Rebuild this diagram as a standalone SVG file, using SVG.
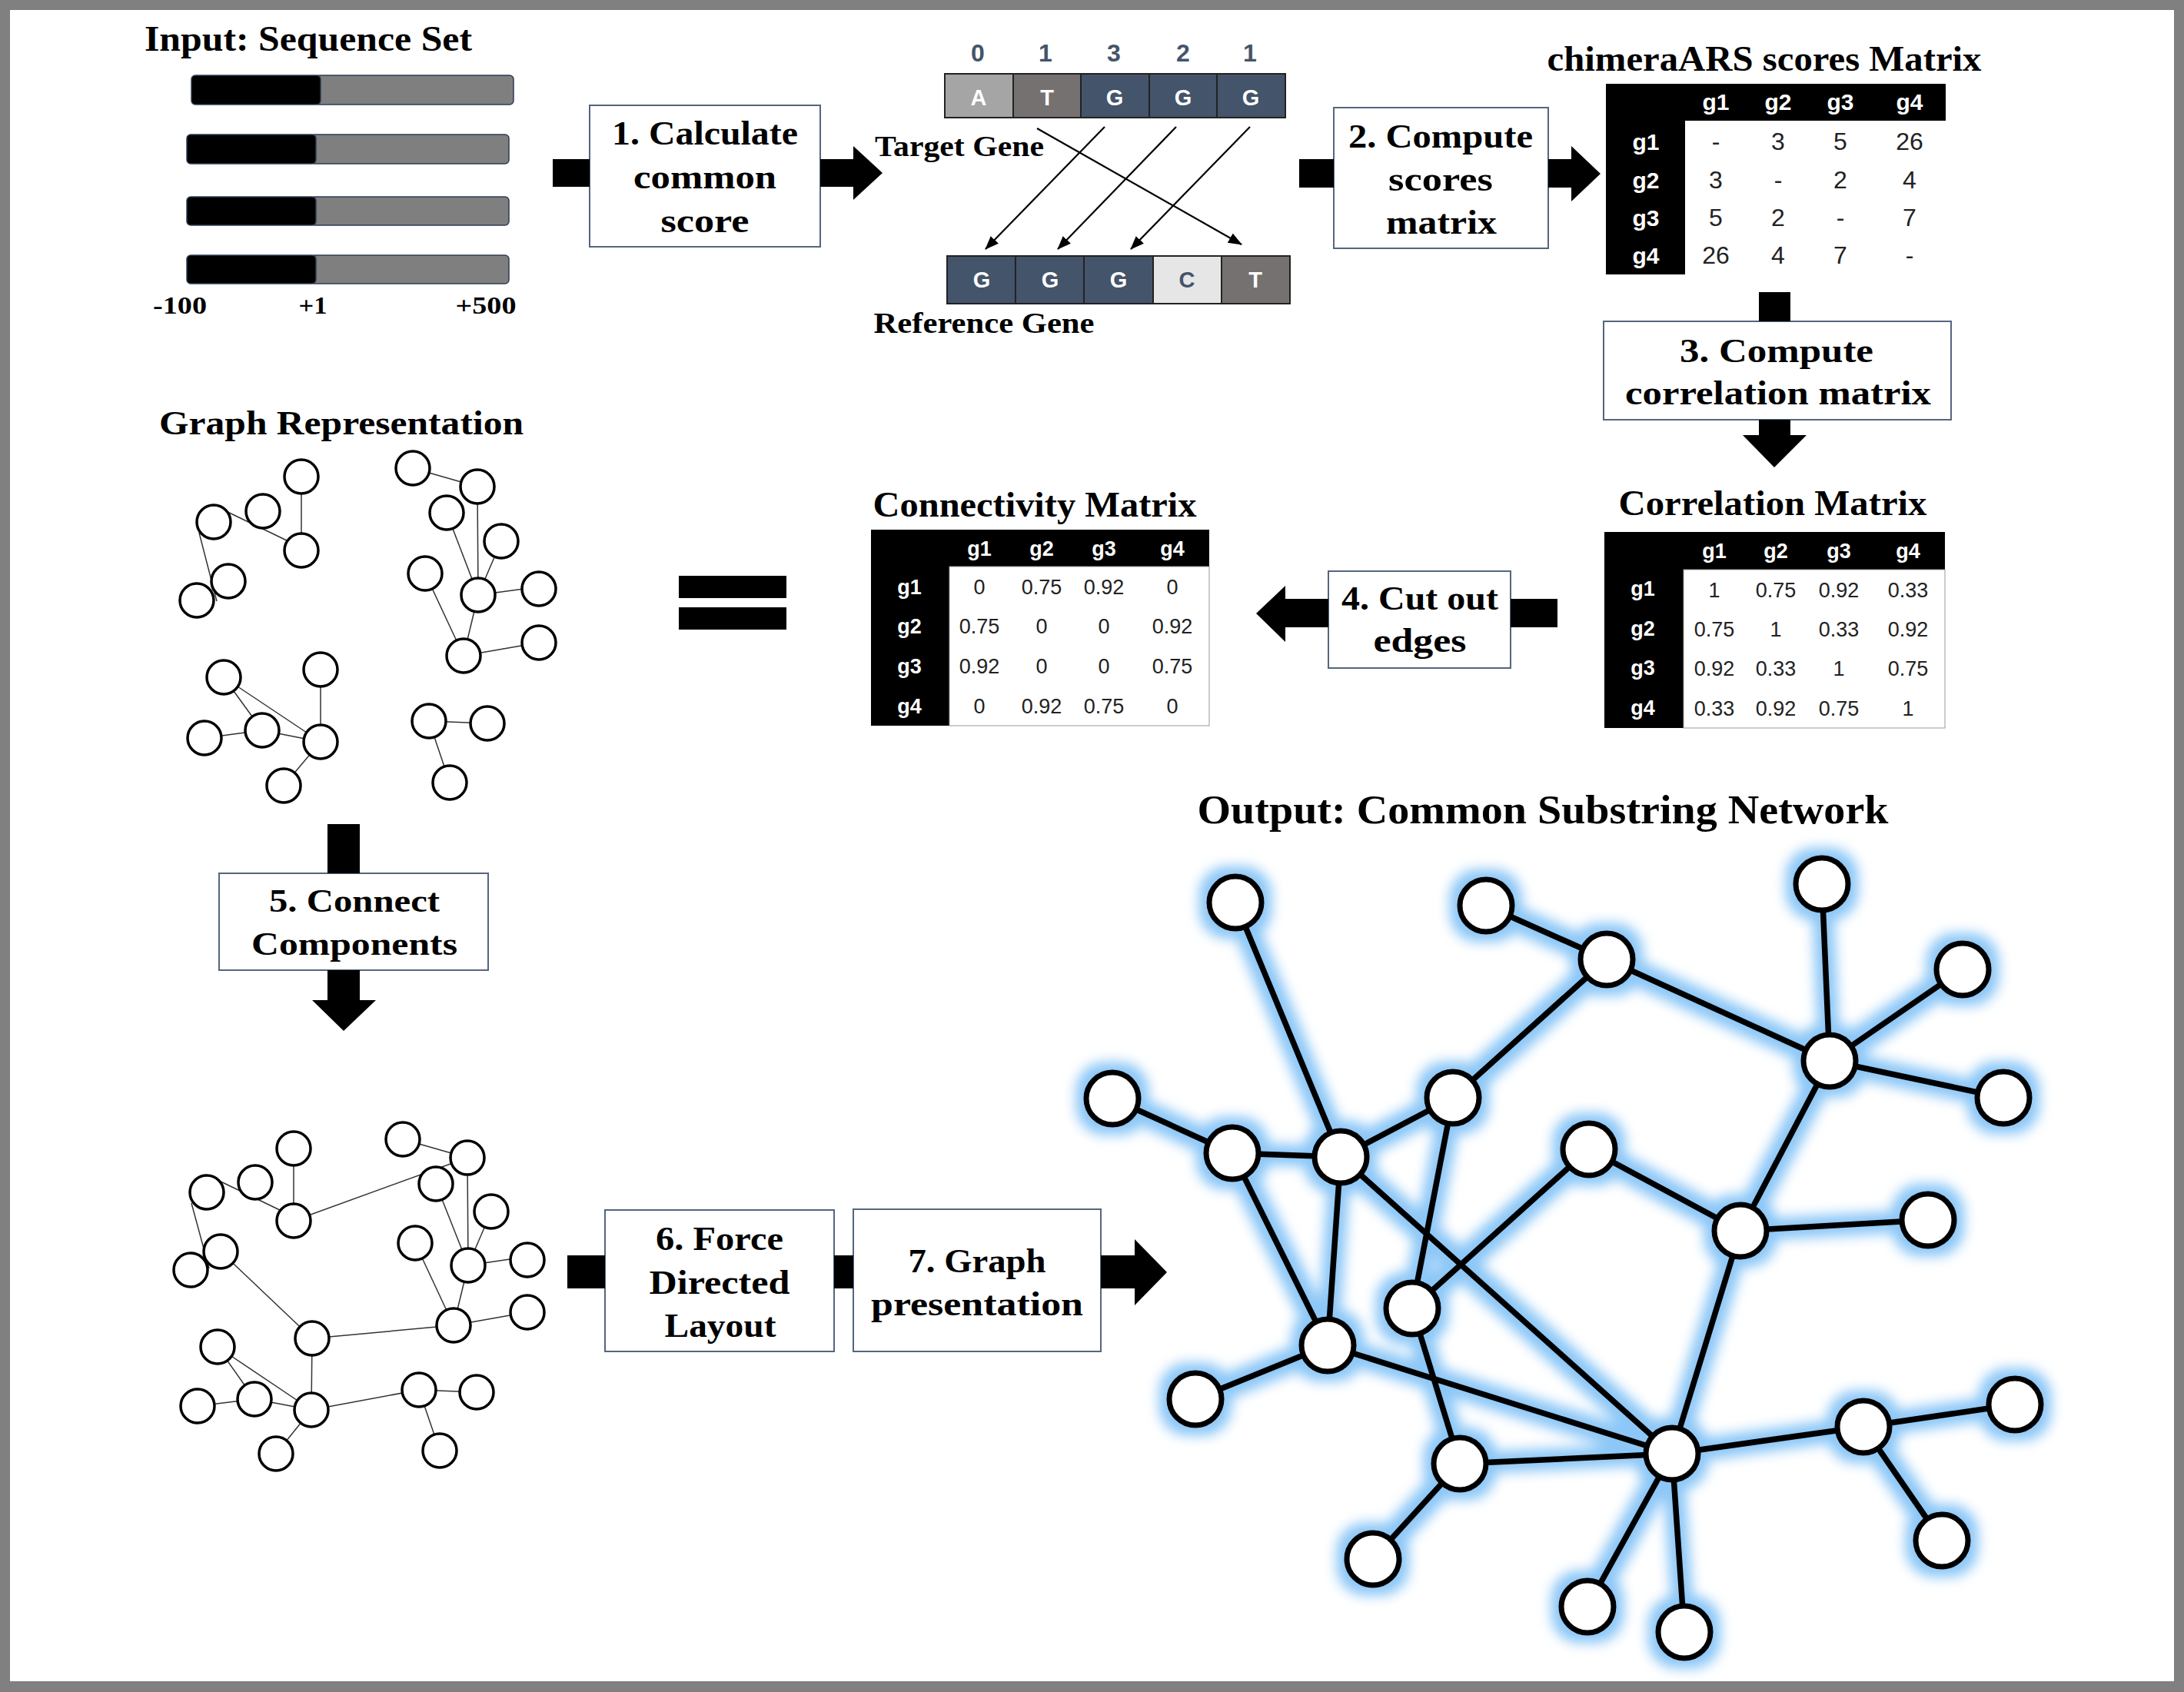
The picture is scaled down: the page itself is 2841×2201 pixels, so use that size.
<svg xmlns="http://www.w3.org/2000/svg" xmlns:xlink="http://www.w3.org/1999/xlink" width="2841" height="2201" viewBox="0 0 2841 2201">
<style>
.t{font-family:'Liberation Serif','DejaVu Serif',serif;font-weight:bold;fill:#000;text-anchor:middle}
.s{font-family:'Liberation Sans','DejaVu Sans',sans-serif;text-anchor:middle}
.sb{font-family:'Liberation Sans','DejaVu Sans',sans-serif;font-weight:bold;text-anchor:middle}
.box{fill:#fff;stroke:#55657e;stroke-width:2}
.blk{fill:#000}
.ge{stroke:#333;stroke-width:1.5;fill:none}
.gn{fill:#fff;stroke:#000;stroke-width:3.5}
.ne{stroke:#000;stroke-width:7.5;stroke-linecap:round;fill:none}
.nn{fill:#fff;stroke:#000;stroke-width:7}
.hw{fill:#fff}
.mv{font-family:'Liberation Sans','DejaVu Sans',sans-serif;text-anchor:middle;fill:#222}
.seqk{fill:#000;stroke:#2f3d55;stroke-width:1.5}
.seqg{fill:#7f7f7f;stroke:#2f3d55;stroke-width:1.5}
.cell{stroke:#222;stroke-width:2}
.ga{stroke:#000;stroke-width:2.2;fill:none}
</style>
<defs>
<marker id="ah" markerUnits="userSpaceOnUse" markerWidth="18" markerHeight="14" refX="17" refY="7" orient="auto">
<path d="M0,0 L18,7 L0,14 z" fill="#000"/>
</marker>
<filter id="halo" x="-10%" y="-10%" width="120%" height="120%">
<feMorphology in="SourceAlpha" operator="dilate" radius="10" result="d"/>
<feGaussianBlur in="d" stdDeviation="8" result="b"/>
<feFlood flood-color="#8cc7f7" result="f"/>
<feComposite in="f" in2="b" operator="in"/>
</filter>
</defs>

<!-- frame -->
<rect x="0" y="0" width="2841" height="2201" fill="#808080"/>
<rect x="13" y="13" width="2815" height="2174" fill="#fff"/>

<!-- Input: Sequence Set -->
<g id="input-sequences">
<text class="t" x="401" y="66" font-size="46" textLength="426" lengthAdjust="spacingAndGlyphs">Input: Sequence Set</text>
<rect class="seqg" x="410" y="98" width="258" height="38" rx="5"/>
<rect class="seqk" x="249" y="98" width="168" height="38" rx="5"/>
<rect class="seqg" x="404" y="175" width="258" height="38" rx="5"/>
<rect class="seqk" x="243" y="175" width="168" height="38" rx="5"/>
<rect class="seqg" x="404" y="256" width="258" height="37" rx="5"/>
<rect class="seqk" x="243" y="256" width="168" height="37" rx="5"/>
<rect class="seqg" x="404" y="332" width="258" height="37" rx="5"/>
<rect class="seqk" x="243" y="332" width="168" height="37" rx="5"/>
<text class="t" x="234" y="408" font-size="32" textLength="70" lengthAdjust="spacingAndGlyphs">-100</text>
<text class="t" x="407" y="408" font-size="32" textLength="37" lengthAdjust="spacingAndGlyphs">+1</text>
<text class="t" x="632" y="408" font-size="32" textLength="79" lengthAdjust="spacingAndGlyphs">+500</text>
</g>

<!-- Step boxes -->
<g id="step1">
<rect class="box" x="767" y="137" width="300" height="184"/>
<text class="t" x="917" y="188" font-size="44" textLength="242" lengthAdjust="spacingAndGlyphs">1. Calculate</text>
<text class="t" x="917" y="245" font-size="44" textLength="186" lengthAdjust="spacingAndGlyphs">common</text>
<text class="t" x="917" y="302" font-size="44" textLength="115" lengthAdjust="spacingAndGlyphs">score</text>
</g>

<g id="alignment">
<text class="sb" x="1272" y="80" font-size="32" fill="#44546a">0</text>
<text class="sb" x="1360" y="80" font-size="32" fill="#44546a">1</text>
<text class="sb" x="1449" y="80" font-size="32" fill="#44546a">3</text>
<text class="sb" x="1539" y="80" font-size="32" fill="#44546a">2</text>
<text class="sb" x="1626" y="80" font-size="32" fill="#44546a">1</text>
<rect class="cell" x="1229" y="96" width="89" height="57" fill="#a5a5a5"/>
<rect class="cell" x="1318" y="96" width="88" height="57" fill="#767171"/>
<rect class="cell" x="1406" y="96" width="89" height="57" fill="#44546a"/>
<rect class="cell" x="1495" y="96" width="88" height="57" fill="#44546a"/>
<rect class="cell" x="1583" y="96" width="89" height="57" fill="#44546a"/>
<text class="sb" x="1273" y="137" font-size="29" fill="#fff">A</text>
<text class="sb" x="1362" y="137" font-size="29" fill="#fff">T</text>
<text class="sb" x="1450" y="137" font-size="29" fill="#fff">G</text>
<text class="sb" x="1539" y="137" font-size="29" fill="#fff">G</text>
<text class="sb" x="1627" y="137" font-size="29" fill="#fff">G</text>
<rect class="cell" x="1232" y="333" width="89" height="62" fill="#44546a"/>
<rect class="cell" x="1321" y="333" width="89" height="62" fill="#44546a"/>
<rect class="cell" x="1410" y="333" width="90" height="62" fill="#44546a"/>
<rect class="cell" x="1500" y="333" width="89" height="62" fill="#e7e6e6"/>
<rect class="cell" x="1589" y="333" width="89" height="62" fill="#767171"/>
<text class="sb" x="1277" y="374" font-size="29" fill="#fff">G</text>
<text class="sb" x="1366" y="374" font-size="29" fill="#fff">G</text>
<text class="sb" x="1455" y="374" font-size="29" fill="#fff">G</text>
<text class="sb" x="1544" y="374" font-size="29" fill="#44546a">C</text>
<text class="sb" x="1633" y="374" font-size="29" fill="#fff">T</text>
<line class="ga" x1="1349" y1="167" x2="1615" y2="318" marker-end="url(#ah)"/>
<line class="ga" x1="1437" y1="165" x2="1282" y2="324" marker-end="url(#ah)"/>
<line class="ga" x1="1530" y1="165" x2="1376" y2="324" marker-end="url(#ah)"/>
<line class="ga" x1="1626" y1="165" x2="1471" y2="324" marker-end="url(#ah)"/>
<text class="t" x="1248" y="203" font-size="38" textLength="220" lengthAdjust="spacingAndGlyphs">Target Gene</text>
<text class="t" x="1280" y="433" font-size="38" textLength="287" lengthAdjust="spacingAndGlyphs">Reference Gene</text>
</g>

<g id="step2">
<rect class="box" x="1735" y="140" width="279" height="183"/>
<text class="t" x="1874" y="192" font-size="44" textLength="240" lengthAdjust="spacingAndGlyphs">2. Compute</text>
<text class="t" x="1874" y="248" font-size="44" textLength="136" lengthAdjust="spacingAndGlyphs">scores</text>
<text class="t" x="1875" y="304" font-size="44" textLength="144" lengthAdjust="spacingAndGlyphs">matrix</text>
</g>

<g id="scores-matrix">
<text class="t" x="2295" y="92" font-size="46" textLength="565" lengthAdjust="spacingAndGlyphs">chimeraARS scores Matrix</text>
<rect class="blk" x="2089" y="109" width="442" height="248"/>
<rect class="hw" x="2192" y="157" width="339" height="200"/>
<g class="sb" font-size="30" fill="#fff">
<text x="2232" y="143">g1</text><text x="2313" y="143">g2</text><text x="2394" y="143">g3</text><text x="2484" y="143">g4</text>
<text x="2141" y="195">g1</text><text x="2141" y="245">g2</text><text x="2141" y="294">g3</text><text x="2141" y="343">g4</text>
</g>
<g class="mv" font-size="32">
<text x="2232" y="195">-</text><text x="2313" y="195">3</text><text x="2394" y="195">5</text><text x="2484" y="195">26</text>
<text x="2232" y="245">3</text><text x="2313" y="245">-</text><text x="2394" y="245">2</text><text x="2484" y="245">4</text>
<text x="2232" y="294">5</text><text x="2313" y="294">2</text><text x="2394" y="294">-</text><text x="2484" y="294">7</text>
<text x="2232" y="343">26</text><text x="2313" y="343">4</text><text x="2394" y="343">7</text><text x="2484" y="343">-</text>
</g>
</g>

<g id="step3">
<rect class="box" x="2086" y="418" width="452" height="128"/>
<text class="t" x="2311" y="471" font-size="44" textLength="252" lengthAdjust="spacingAndGlyphs">3.  Compute</text>
<text class="t" x="2313" y="526" font-size="44" textLength="398" lengthAdjust="spacingAndGlyphs">correlation matrix</text>
</g>

<g id="correlation-matrix">
<text class="t" x="2306" y="670" font-size="46" textLength="401" lengthAdjust="spacingAndGlyphs">Correlation Matrix</text>
<rect class="blk" x="2087" y="692" width="443" height="255"/>
<rect class="hw" x="2190" y="741" width="340" height="206" stroke="#999" stroke-width="1"/>
<g class="sb" font-size="27" fill="#fff">
<text x="2230" y="726">g1</text><text x="2310" y="726">g2</text><text x="2392" y="726">g3</text><text x="2482" y="726">g4</text>
<text x="2137" y="775">g1</text><text x="2137" y="827">g2</text><text x="2137" y="878">g3</text><text x="2137" y="930">g4</text>
</g>
<g class="mv" font-size="27">
<text x="2230" y="777">1</text><text x="2310" y="777">0.75</text><text x="2392" y="777">0.92</text><text x="2482" y="777">0.33</text>
<text x="2230" y="828">0.75</text><text x="2310" y="828">1</text><text x="2392" y="828">0.33</text><text x="2482" y="828">0.92</text>
<text x="2230" y="879">0.92</text><text x="2310" y="879">0.33</text><text x="2392" y="879">1</text><text x="2482" y="879">0.75</text>
<text x="2230" y="931">0.33</text><text x="2310" y="931">0.92</text><text x="2392" y="931">0.75</text><text x="2482" y="931">1</text>
</g>
</g>

<g id="step4">
<rect class="box" x="1728" y="743" width="237" height="126"/>
<text class="t" x="1847" y="793" font-size="44" textLength="204" lengthAdjust="spacingAndGlyphs">4. Cut out</text>
<text class="t" x="1847" y="848" font-size="44" textLength="121" lengthAdjust="spacingAndGlyphs">edges</text>
</g>

<g id="connectivity-matrix">
<text class="t" x="1346" y="672" font-size="46" textLength="421" lengthAdjust="spacingAndGlyphs">Connectivity Matrix</text>
<rect class="blk" x="1133" y="689" width="440" height="255"/>
<rect class="hw" x="1235" y="737" width="338" height="207" stroke="#999" stroke-width="1"/>
<g class="sb" font-size="27" fill="#fff">
<text x="1274" y="723">g1</text><text x="1355" y="723">g2</text><text x="1436" y="723">g3</text><text x="1525" y="723">g4</text>
<text x="1183" y="773">g1</text><text x="1183" y="824">g2</text><text x="1183" y="876">g3</text><text x="1183" y="928">g4</text>
</g>
<g class="mv" font-size="27">
<text x="1274" y="773">0</text><text x="1355" y="773">0.75</text><text x="1436" y="773">0.92</text><text x="1525" y="773">0</text>
<text x="1274" y="824">0.75</text><text x="1355" y="824">0</text><text x="1436" y="824">0</text><text x="1525" y="824">0.92</text>
<text x="1274" y="876">0.92</text><text x="1355" y="876">0</text><text x="1436" y="876">0</text><text x="1525" y="876">0.75</text>
<text x="1274" y="928">0</text><text x="1355" y="928">0.92</text><text x="1436" y="928">0.75</text><text x="1525" y="928">0</text>
</g>
</g>

<g id="equals">
<rect class="blk" x="883" y="749" width="140" height="29"/>
<rect class="blk" x="883" y="790" width="140" height="29"/>
</g>

<!-- Graph Representation -->
<g id="graph-representation">
<text class="t" x="444" y="565" font-size="44" textLength="474" lengthAdjust="spacingAndGlyphs">Graph Representation</text>
<g class="ge">
<line x1="292" y1="664" x2="375" y2="704"/>
<line x1="392" y1="620" x2="392" y2="716"/>
<line x1="259" y1="693" x2="282" y2="782"/>
<line x1="537" y1="609" x2="621" y2="633"/>
<line x1="621" y1="633" x2="622" y2="774"/>
<line x1="581" y1="667" x2="622" y2="774"/>
<line x1="652" y1="704" x2="622" y2="774"/>
<line x1="622" y1="774" x2="711" y2="762"/>
<line x1="553" y1="746" x2="603" y2="853"/>
<line x1="622" y1="774" x2="603" y2="853"/>
<line x1="603" y1="853" x2="701" y2="836"/>
<line x1="291" y1="881" x2="417" y2="965"/>
<line x1="291" y1="881" x2="341" y2="950"/>
<line x1="341" y1="950" x2="417" y2="965"/>
<line x1="417" y1="871" x2="417" y2="965"/>
<line x1="266" y1="960" x2="341" y2="950"/>
<line x1="417" y1="965" x2="369" y2="1022"/>
<line x1="558" y1="938" x2="634" y2="941"/>
<line x1="558" y1="938" x2="585" y2="1018"/>
</g>
<g class="gn">
<circle cx="392" cy="620" r="22"/><circle cx="342" cy="665" r="22"/><circle cx="278" cy="679" r="22"/>
<circle cx="392" cy="716" r="22"/><circle cx="297" cy="756" r="22"/><circle cx="256" cy="781" r="22"/>
<circle cx="537" cy="609" r="22"/><circle cx="621" cy="633" r="22"/><circle cx="581" cy="667" r="22"/>
<circle cx="652" cy="704" r="22"/><circle cx="553" cy="746" r="22"/><circle cx="622" cy="774" r="22"/>
<circle cx="701" cy="766" r="22"/><circle cx="603" cy="853" r="22"/><circle cx="701" cy="836" r="22"/>
<circle cx="291" cy="881" r="22"/><circle cx="417" cy="871" r="22"/><circle cx="266" cy="960" r="22"/>
<circle cx="341" cy="950" r="22"/><circle cx="417" cy="965" r="22"/><circle cx="369" cy="1022" r="22"/>
<circle cx="558" cy="938" r="22"/><circle cx="634" cy="941" r="22"/><circle cx="585" cy="1018" r="22"/>
</g>
</g>

<g id="step5">
<rect class="box" x="285" y="1136" width="350" height="126"/>
<text class="t" x="461" y="1186" font-size="42" textLength="222" lengthAdjust="spacingAndGlyphs">5. Connect</text>
<text class="t" x="461" y="1242" font-size="42" textLength="268" lengthAdjust="spacingAndGlyphs">Components</text>
</g>

<!-- Connected components graph -->
<g id="connected-graph">
<g class="ge">
<line x1="283" y1="1535" x2="368" y2="1576"/>
<line x1="382" y1="1494" x2="382" y2="1588"/>
<line x1="249" y1="1565" x2="272" y2="1650"/>
<line x1="382" y1="1588" x2="608" y2="1506"/>
<line x1="287" y1="1628" x2="406" y2="1741"/>
<line x1="524" y1="1482" x2="608" y2="1506"/>
<line x1="608" y1="1506" x2="609" y2="1646"/>
<line x1="567" y1="1540" x2="609" y2="1646"/>
<line x1="639" y1="1576" x2="609" y2="1646"/>
<line x1="609" y1="1646" x2="697" y2="1633"/>
<line x1="540" y1="1617" x2="590" y2="1724"/>
<line x1="609" y1="1646" x2="590" y2="1724"/>
<line x1="590" y1="1724" x2="686" y2="1707"/>
<line x1="406" y1="1741" x2="590" y2="1724"/>
<line x1="283" y1="1752" x2="405" y2="1834"/>
<line x1="283" y1="1752" x2="331" y2="1820"/>
<line x1="331" y1="1820" x2="405" y2="1834"/>
<line x1="406" y1="1741" x2="405" y2="1834"/>
<line x1="257" y1="1829" x2="331" y2="1820"/>
<line x1="405" y1="1834" x2="359" y2="1891"/>
<line x1="545" y1="1808" x2="620" y2="1811"/>
<line x1="545" y1="1808" x2="572" y2="1887"/>
<line x1="405" y1="1834" x2="545" y2="1808"/>
</g>
<g class="gn">
<circle cx="382" cy="1494" r="22"/><circle cx="332" cy="1538" r="22"/><circle cx="269" cy="1551" r="22"/>
<circle cx="382" cy="1588" r="22"/><circle cx="287" cy="1628" r="22"/><circle cx="248" cy="1652" r="22"/>
<circle cx="524" cy="1482" r="22"/><circle cx="608" cy="1506" r="22"/><circle cx="567" cy="1540" r="22"/>
<circle cx="639" cy="1576" r="22"/><circle cx="540" cy="1617" r="22"/><circle cx="609" cy="1646" r="22"/>
<circle cx="686" cy="1639" r="22"/><circle cx="590" cy="1724" r="22"/><circle cx="686" cy="1707" r="22"/>
<circle cx="406" cy="1741" r="22"/><circle cx="283" cy="1752" r="22"/><circle cx="257" cy="1829" r="22"/>
<circle cx="331" cy="1820" r="22"/><circle cx="405" cy="1834" r="22"/><circle cx="359" cy="1891" r="22"/>
<circle cx="545" cy="1808" r="22"/><circle cx="620" cy="1811" r="22"/><circle cx="572" cy="1887" r="22"/>
</g>
</g>

<g id="step6">
<rect class="box" x="787" y="1574" width="298" height="184"/>
<text class="t" x="936" y="1626" font-size="44" textLength="166" lengthAdjust="spacingAndGlyphs">6. Force</text>
<text class="t" x="936" y="1683" font-size="44" textLength="183" lengthAdjust="spacingAndGlyphs">Directed</text>
<text class="t" x="937" y="1739" font-size="44" textLength="145" lengthAdjust="spacingAndGlyphs">Layout</text>
</g>

<g id="step7">
<rect class="box" x="1110" y="1573" width="322" height="185"/>
<text class="t" x="1271" y="1655" font-size="44" textLength="179" lengthAdjust="spacingAndGlyphs">7. Graph</text>
<text class="t" x="1271" y="1711" font-size="44" textLength="276" lengthAdjust="spacingAndGlyphs">presentation</text>
</g>

<!-- Flow connectors -->
<g id="connectors" class="blk">
<rect x="719" y="207" width="48" height="36"/>
<polygon points="1067,207 1110,207 1110,190 1148,225 1110,260 1110,243 1067,243"/>
<rect x="1690" y="207" width="45" height="37"/>
<polygon points="2014,207 2044,207 2044,190 2082,226 2044,262 2044,244 2014,244"/>
<rect x="2288" y="380" width="41" height="38"/>
<polygon points="2288,546 2329,546 2329,566 2350,566 2308,608 2267,566 2288,566"/>
<rect x="1965" y="779" width="61" height="37"/>
<polygon points="1728,779 1672,779 1672,762 1634,798 1672,835 1672,816 1728,816"/>
<rect x="426" y="1072" width="42" height="64"/>
<polygon points="426,1262 468,1262 468,1301 489,1301 447,1341 406,1301 426,1301"/>
<rect x="738" y="1633" width="49" height="43"/>
<rect x="1085" y="1633" width="25" height="43"/>
<polygon points="1432,1633 1476,1633 1476,1612 1518,1655 1476,1698 1476,1676 1432,1676"/>
</g>

<!-- Output network -->
<text class="t" x="2007" y="1071" font-size="52" textLength="899" lengthAdjust="spacingAndGlyphs">Output: Common Substring Network</text>
<g id="network-glow" filter="url(#halo)">
<use xlink:href="#network-edges"/>
<use xlink:href="#network-nodes"/>
</g>
<g id="network-edges" class="ne">
<line x1="1607" y1="1174" x2="1744" y2="1505"/>
<line x1="1933" y1="1178" x2="2090" y2="1248"/>
<line x1="2090" y1="1248" x2="1890" y2="1428"/>
<line x1="2090" y1="1248" x2="2380" y2="1380"/>
<line x1="2370" y1="1150" x2="2380" y2="1380"/>
<line x1="2553" y1="1261" x2="2380" y2="1380"/>
<line x1="2380" y1="1380" x2="2606" y2="1428"/>
<line x1="2380" y1="1380" x2="2264" y2="1601"/>
<line x1="1447" y1="1429" x2="1603" y2="1500"/>
<line x1="1603" y1="1500" x2="1744" y2="1505"/>
<line x1="1744" y1="1505" x2="1890" y2="1428"/>
<line x1="1603" y1="1500" x2="1727" y2="1750"/>
<line x1="1744" y1="1505" x2="1727" y2="1750"/>
<line x1="1744" y1="1505" x2="2175" y2="1891"/>
<line x1="1890" y1="1428" x2="1837" y2="1702"/>
<line x1="2067" y1="1495" x2="1837" y2="1702"/>
<line x1="2067" y1="1495" x2="2264" y2="1601"/>
<line x1="2264" y1="1601" x2="2508" y2="1587"/>
<line x1="2264" y1="1601" x2="2175" y2="1891"/>
<line x1="1837" y1="1702" x2="1899" y2="1904"/>
<line x1="1727" y1="1750" x2="1555" y2="1820"/>
<line x1="1727" y1="1750" x2="2175" y2="1891"/>
<line x1="1899" y1="1904" x2="2175" y2="1891"/>
<line x1="2175" y1="1891" x2="2424" y2="1856"/>
<line x1="2424" y1="1856" x2="2621" y2="1827"/>
<line x1="2424" y1="1856" x2="2526" y2="2004"/>
<line x1="1899" y1="1904" x2="1786" y2="2028"/>
<line x1="2175" y1="1891" x2="2065" y2="2090"/>
<line x1="2175" y1="1891" x2="2191" y2="2123"/>
</g>
<g id="network-nodes" class="nn">
<circle cx="1607" cy="1174" r="34"/>
<circle cx="1933" cy="1178" r="34"/>
<circle cx="2370" cy="1150" r="34"/>
<circle cx="2090" cy="1248" r="34"/>
<circle cx="2553" cy="1261" r="34"/>
<circle cx="2380" cy="1380" r="34"/>
<circle cx="2606" cy="1428" r="34"/>
<circle cx="1447" cy="1429" r="34"/>
<circle cx="1890" cy="1428" r="34"/>
<circle cx="1603" cy="1500" r="34"/>
<circle cx="1744" cy="1505" r="34"/>
<circle cx="2067" cy="1495" r="34"/>
<circle cx="2264" cy="1601" r="34"/>
<circle cx="2508" cy="1587" r="34"/>
<circle cx="1837" cy="1702" r="34"/>
<circle cx="1727" cy="1750" r="34"/>
<circle cx="1555" cy="1820" r="34"/>
<circle cx="2424" cy="1856" r="34"/>
<circle cx="2621" cy="1827" r="34"/>
<circle cx="2175" cy="1891" r="34"/>
<circle cx="1899" cy="1904" r="34"/>
<circle cx="2526" cy="2004" r="34"/>
<circle cx="1786" cy="2028" r="34"/>
<circle cx="2065" cy="2090" r="34"/>
<circle cx="2191" cy="2123" r="34"/>
</g>
</svg>
